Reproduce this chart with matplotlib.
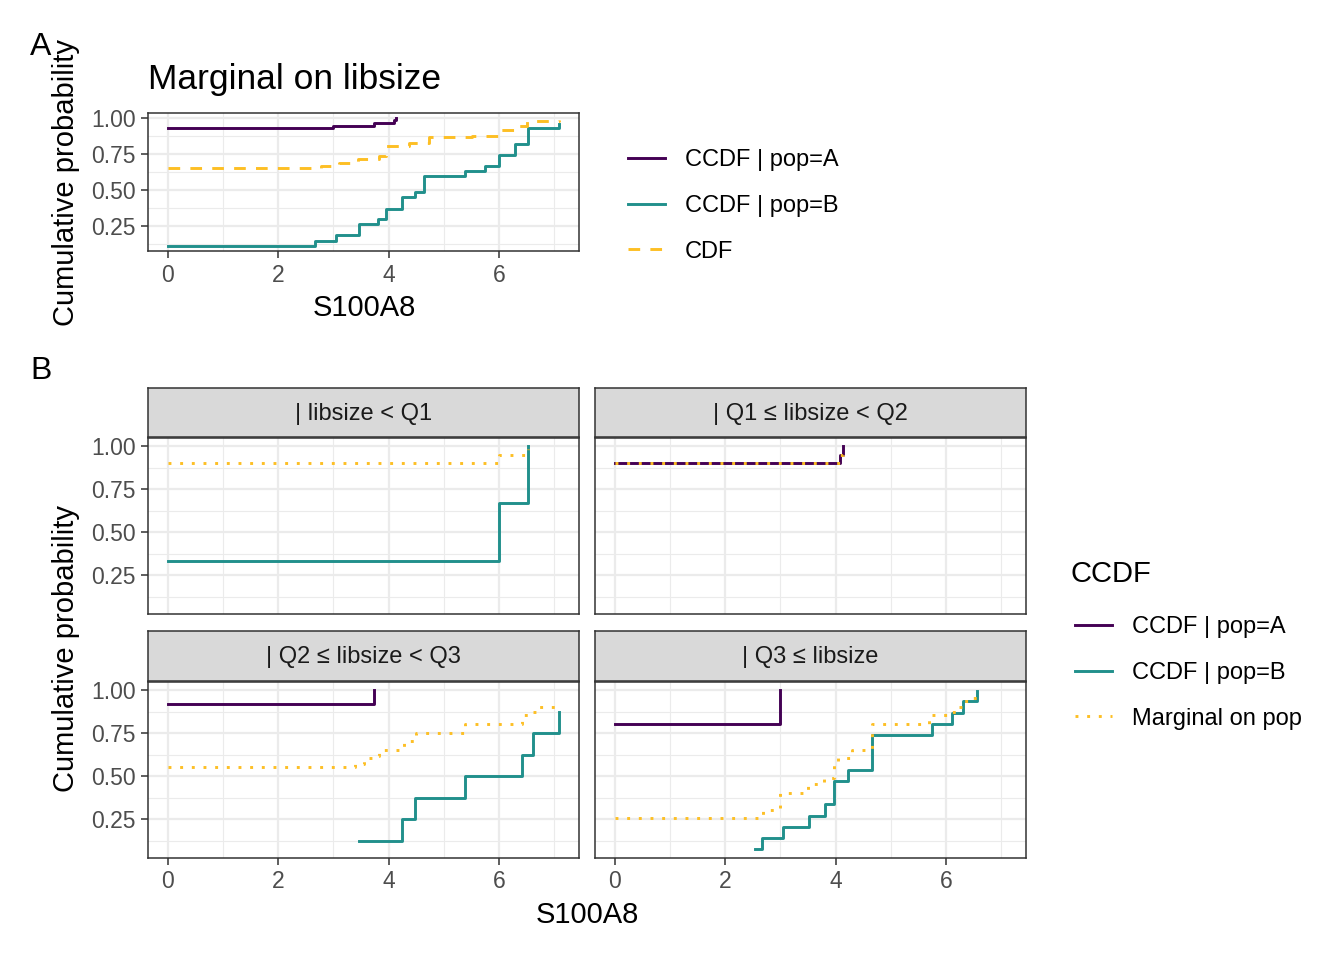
import matplotlib
matplotlib.use("Agg")
import matplotlib.pyplot as plt
from matplotlib.lines import Line2D

plt.rcParams['font.family'] = ['Liberation Sans', 'DejaVu Sans']

# ---------------- data ----------------
COL_A = "#440154"
COL_B = "#21908C"
COL_M = "#FDBF24"

# Panel A: marginal on libsize
a_popA_x = [0, 2.99, 3.74, 4.10, 4.14]
a_popA_y = [0.930, 0.946, 0.965, 0.985, 1.0]
a_popB_x = [0, 2.67, 3.04, 3.46, 3.80, 3.96, 4.24, 4.47, 4.64, 5.38, 5.75, 6.00, 6.29, 6.53, 7.09]
a_popB_y = [0.110, 0.149, 0.186, 0.261, 0.298, 0.371, 0.448, 0.483, 0.597, 0.632, 0.669, 0.744, 0.818, 0.930, 0.960]
a_cdf_x = [0, 2.78, 3.10, 3.44, 3.83, 3.96, 4.37, 4.73, 5.50, 6.00, 6.26, 6.50, 7.09]
a_cdf_y = [0.653, 0.669, 0.688, 0.716, 0.739, 0.809, 0.825, 0.865, 0.876, 0.918, 0.942, 0.981, 0.985]

# Panel B facets
facet_labels = ["| libsize < Q1", "| Q1 \u2264 libsize < Q2", "| Q2 \u2264 libsize < Q3", "| Q3 \u2264 libsize"]

b1_popB_x = [0, 6.00, 6.53]
b1_popB_y = [0.333, 0.667, 1.0]
b1_marg_x = [0, 6.00, 6.53]
b1_marg_y = [0.900, 0.950, 0.985]

b2_popA_x = [0, 4.07, 4.13]
b2_popA_y = [0.900, 0.948, 1.0]
b2_marg_x = [0, 4.07, 4.13]
b2_marg_y = [0.900, 0.950, 0.990]

b3_popA_x = [0, 3.74]
b3_popA_y = [0.917, 1.0]
b3_popB_x = [3.47, 4.25, 4.47, 5.38, 6.41, 6.61, 7.09]
b3_popB_y = [0.125, 0.250, 0.375, 0.500, 0.625, 0.750, 0.875]
b3_marg_x = [0, 3.40, 3.55, 3.72, 3.82, 4.27, 4.50, 5.38, 6.42, 6.55, 6.68, 7.09]
b3_marg_y = [0.554, 0.567, 0.606, 0.615, 0.652, 0.702, 0.752, 0.802, 0.852, 0.875, 0.900, 0.923]

b4_popA_x = [0, 3.00]
b4_popA_y = [0.802, 1.0]
b4_popB_x = [2.54, 2.67, 3.04, 3.52, 3.80, 3.97, 4.23, 4.65, 5.74, 6.11, 6.31, 6.56]
b4_popB_y = [0.073, 0.138, 0.204, 0.269, 0.337, 0.471, 0.535, 0.737, 0.802, 0.869, 0.937, 0.994]
b4_marg_x = [0, 2.69, 2.99, 3.50, 3.79, 3.97, 4.05, 4.30, 4.65, 5.69, 6.10, 6.20, 6.29, 6.45, 6.56]
b4_marg_y = [0.254, 0.302, 0.404, 0.452, 0.490, 0.567, 0.606, 0.652, 0.802, 0.852, 0.875, 0.900, 0.937, 0.952, 0.990]

x_ticks = [0, 2, 4, 6]
x_minor = [1, 3, 5, 7]
y_ticks = [0.25, 0.50, 0.75, 1.00]
y_tick_labels = ["0.25", "0.50", "0.75", "1.00"]
y_minor = [0.125, 0.375, 0.625, 0.875]

# ---------------- layout helpers ----------------
W, H = 1344, 960
fig = plt.figure(figsize=(W / 100, H / 100), dpi=100)


def rect(l, t, r, b):
    return [l / W, 1 - b / H, (r - l) / W, (b - t) / H]


def fx(px):
    return px / W


def fy(py):
    return 1 - py / H


LW = 2.1
DASHED = (0, (4, 3.5))
DOTTED = (0, (1, 3))
TICK_COL = "#4D4D4D"
BORDER = "#333333"
XLIM = (-0.3545, 7.4445)
TICK_FS = 16.5
LEG_FS = 17
AXT_FS = 21


def style_axes(ax, ylim, show_x, show_y):
    ax.set_xlim(*XLIM)
    ax.set_ylim(*ylim)
    ax.set_xticks(x_ticks)
    ax.set_xticks(x_minor, minor=True)
    ax.set_yticks(y_ticks)
    ax.set_yticks(y_minor, minor=True)
    ax.grid(which='major', color='#EBEBEB', lw=1.6)
    ax.grid(which='minor', color='#EBEBEB', lw=0.8)
    ax.set_axisbelow(True)
    for s in ax.spines.values():
        s.set_color(BORDER)
        s.set_linewidth(1.1)
    ax.tick_params(which='minor', length=0)
    ax.tick_params(which='major', length=5, width=1.1, color=BORDER,
                   labelsize=TICK_FS, labelcolor=TICK_COL, pad=4)
    if show_x:
        ax.set_xticklabels([str(t) for t in x_ticks])
    else:
        ax.tick_params(axis='x', which='major', length=0, labelbottom=False)
    if show_y:
        ax.set_yticklabels(y_tick_labels)
    else:
        ax.tick_params(axis='y', which='major', length=0, labelleft=False)


# ---------------- Panel A ----------------
axA = fig.add_axes(rect(148, 113, 579, 251))
axA.step(a_popA_x, a_popA_y, where='post', color=COL_A, lw=LW)
axA.step(a_popB_x, a_popB_y, where='post', color=COL_B, lw=LW)
axA.step(a_cdf_x, a_cdf_y, where='post', color=COL_M, lw=LW, linestyle=DASHED)
style_axes(axA, (0.0764, 1.0347), True, True)

fig.text(fx(148), fy(79), "Marginal on libsize", fontsize=25.5, ha='left', va='center', color='black')
fig.text(fx(364), fy(308), "S100A8", fontsize=AXT_FS, ha='center', va='center')
fig.text(fx(66), fy(182), "Cumulative probability", fontsize=AXT_FS, rotation=90, ha='center', va='center')
fig.text(fx(41), fy(47), "A", fontsize=23, ha='center', va='center')

handlesA = [Line2D([], [], color=COL_A, lw=LW),
            Line2D([], [], color=COL_B, lw=LW),
            Line2D([], [], color=COL_M, lw=LW, linestyle=DASHED)]
legA = fig.legend(handlesA, ["CCDF | pop=A", "CCDF | pop=B", "CDF"],
                  loc='center left', bbox_to_anchor=(fx(628), fy(206)),
                  frameon=False, fontsize=LEG_FS, handlelength=1.57, handletextpad=0.85,
                  labelspacing=1.0, borderpad=0, borderaxespad=0)

# ---------------- Panel B ----------------
YB = (1 - (614 - 446) / 172, 1 - (438 - 446) / 172)
panel_rects = [(148, 438, 579, 614), (595, 438, 1026, 614),
               (148, 682, 579, 858), (595, 682, 1026, 858)]
strip_rects = [(148, 388, 579, 437), (595, 388, 1026, 437),
               (148, 631, 579, 681), (595, 631, 1026, 681)]

series = [
    [(b1_popB_x, b1_popB_y, COL_B, '-'), (b1_marg_x, b1_marg_y, COL_M, DOTTED)],
    [(b2_popA_x, b2_popA_y, COL_A, '-'), (b2_marg_x, b2_marg_y, COL_M, DOTTED)],
    [(b3_popA_x, b3_popA_y, COL_A, '-'), (b3_popB_x, b3_popB_y, COL_B, '-'),
     (b3_marg_x, b3_marg_y, COL_M, DOTTED)],
    [(b4_popA_x, b4_popA_y, COL_A, '-'), (b4_popB_x, b4_popB_y, COL_B, '-'),
     (b4_marg_x, b4_marg_y, COL_M, DOTTED)],
]

for i in range(4):
    ax = fig.add_axes(rect(*panel_rects[i]))
    for xs, ys, c, ls in series[i]:
        ax.step(xs, ys, where='post', color=c, lw=LW, linestyle=ls)
    style_axes(ax, YB, show_x=(i >= 2), show_y=(i % 2 == 0))
    sx = fig.add_axes(rect(*strip_rects[i]))
    sx.set_facecolor('#D9D9D9')
    sx.set_xticks([])
    sx.set_yticks([])
    for s in sx.spines.values():
        s.set_color(BORDER)
        s.set_linewidth(1.1)
    sx.text(0.5, 0.47, facet_labels[i], transform=sx.transAxes, ha='center', va='center',
            fontsize=17, color='#1A1A1A')

fig.text(fx(587), fy(915), "S100A8", fontsize=AXT_FS, ha='center', va='center')
fig.text(fx(66), fy(648), "Cumulative probability", fontsize=AXT_FS, rotation=90, ha='center', va='center')
fig.text(fx(41), fy(371), "B", fontsize=23, ha='center', va='center')

fig.text(fx(1071), fy(574), "CCDF", fontsize=21, ha='left', va='center')
handlesB = [Line2D([], [], color=COL_A, lw=LW),
            Line2D([], [], color=COL_B, lw=LW),
            Line2D([], [], color=COL_M, lw=LW, linestyle=DOTTED)]
legB = fig.legend(handlesB, ["CCDF | pop=A", "CCDF | pop=B", "Marginal on pop"],
                  loc='center left', bbox_to_anchor=(fx(1075), fy(673)),
                  frameon=False, fontsize=LEG_FS, handlelength=1.57, handletextpad=0.85,
                  labelspacing=1.0, borderpad=0, borderaxespad=0)

fig.savefig("out.png", dpi=100)
